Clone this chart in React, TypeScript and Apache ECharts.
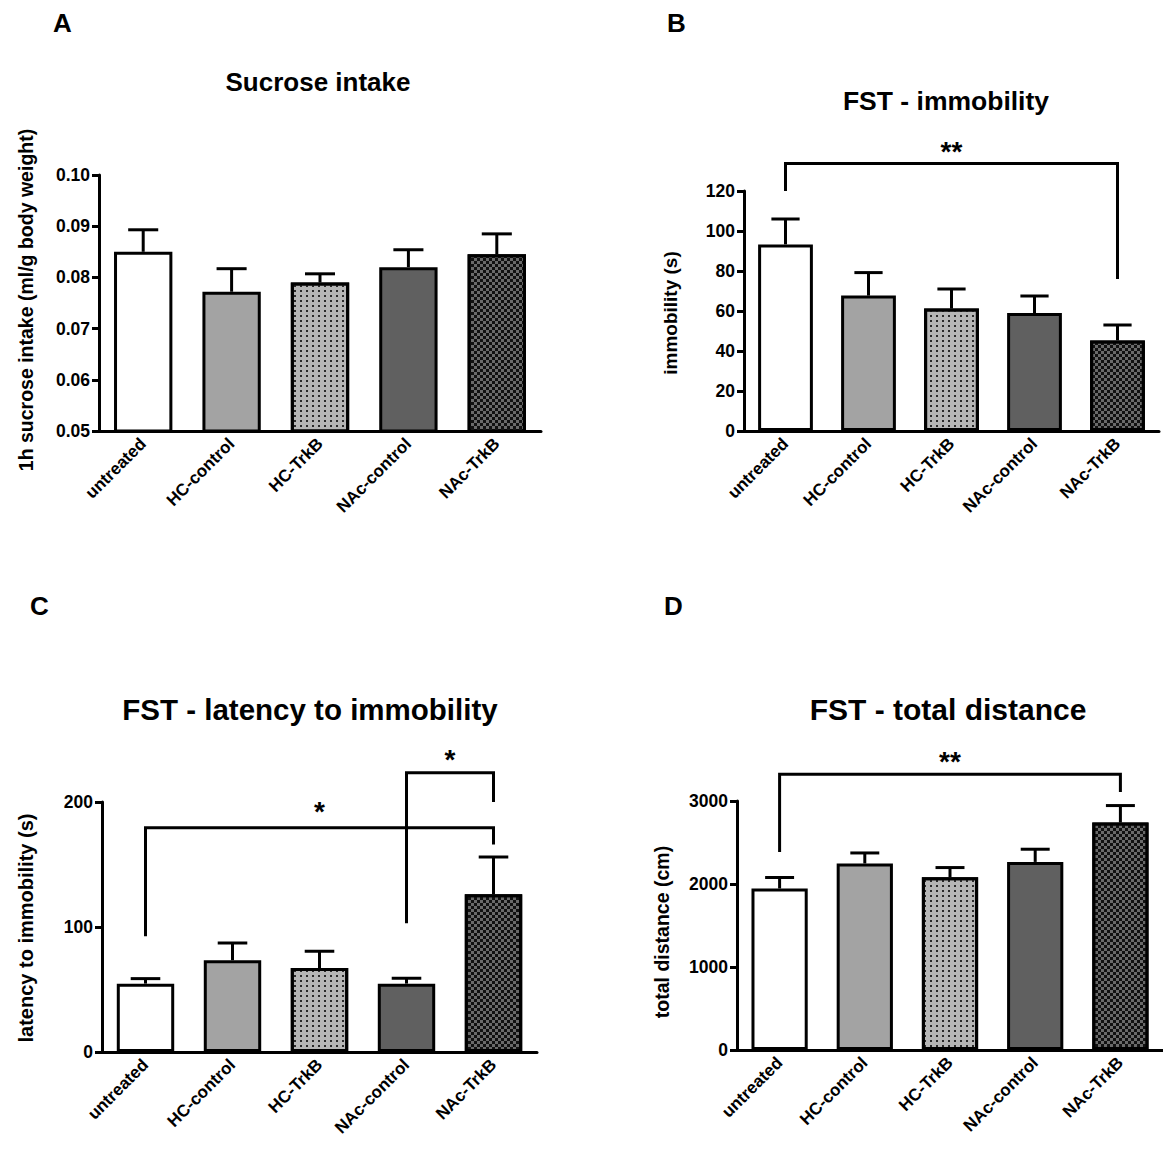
import React, { useEffect, useRef } from "react";
import * as echarts from "echarts";

const FONT = '"Liberation Sans", Arial, Helvetica, sans-serif';

// ---------- data ----------
const categories = ["untreated", "HC-control", "HC-TrkB", "NAc-control", "NAc-TrkB"];

const sucroseMean = [0.085, 0.0772, 0.079, 0.082, 0.0845];
const sucroseSem = [0.0043, 0.0045, 0.0017, 0.0034, 0.004];

const immobilityMean = [93.3, 67.7, 61.2, 59.0, 45.3];
const immobilitySem = [12.7, 11.5, 9.8, 8.5, 7.7];

const latencyMean = [54.7, 73.4, 67.2, 54.7, 126.2];
const latencySem = [4.0, 13.8, 13.4, 4.3, 29.8];

const distanceMean = [1946, 2247, 2082, 2266, 2740];
const distanceSem = [132, 127, 116, 153, 205];

// y-axis ticks: [min, max, step]
const sucroseTicks = [0.05, 0.1, 0.01];
const immobilityTicks = [0, 120, 20];
const latencyTicks = [0, 200, 100];
const distanceTicks = [0, 3000, 1000];

// significance brackets: [fromIndex, toIndex, fromEnd, toEnd, top, labelAt]
const immobilityBrackets = [[0, 4, 120, 76, 133.8, 143]];
const immobilityStars = ["**"];
const latencyBrackets = [
  [0, 4, 92.6, 166, 179.5, 197],
  [3, 4, 103, 200, 223.5, 239],
];
const latencyStars = ["*", "*"];
const distanceBrackets = [[0, 4, 2386, 3108, 3321, 3550]];
const distanceStars = ["**"];

const titles = ["Sucrose intake", "FST - immobility", "FST - latency to immobility", "FST - total distance"];
const yNames = ["1h sucrose intake (ml/g body weight)", "immobility (s)", "latency to immobility (s)", "total distance (cm)"];
const panelLetters = ["A", "B", "C", "D"];

// ---------- styles ----------
const barStyles: any[] = [
  { color: "#ffffff" },
  { color: "#a3a3a3" },
  {
    color: "#b6b6b6",
    decal: { symbol: "rect", symbolSize: 1, color: "#2a2a2a", dashArrayX: [2, 4], dashArrayY: [2, 3] },
  },
  { color: "#606060" },
  {
    color: "#6a6a6a",
    decal: { symbol: "rect", symbolSize: 1, color: "#111111", dashArrayX: [[3, 3], [0, 3, 3, 0]], dashArrayY: [3, 0] },
  },
];

const grids = [
  { left: 99, top: 175, width: 442, height: 256 },
  { left: 744, top: 191, width: 415, height: 240 },
  { left: 102, top: 802, width: 435, height: 250 },
  { left: 737, top: 801, width: 427, height: 249 },
];

const titleLayout = [
  { x: 318, y: 82, size: 26 },
  { x: 946, y: 101, size: 26.5 },
  { x: 310, y: 709, size: 29.5 },
  { x: 948, y: 709, size: 30 },
];
const yNameLayout = [
  { x: 26, y: 300, size: 19.5 },
  { x: 670, y: 313, size: 19 },
  { x: 26, y: 928, size: 20 },
  { x: 662, y: 932, size: 19.5 },
];
const letterLayout = [
  { x: 53, y: 23 },
  { x: 667, y: 23 },
  { x: 30, y: 606 },
  { x: 664, y: 606 },
];

const panels = [
  { mean: sucroseMean, sem: sucroseSem, ticks: sucroseTicks, fmt: (v: number) => v.toFixed(2), brackets: [] as number[][], stars: [] as string[] },
  { mean: immobilityMean, sem: immobilitySem, ticks: immobilityTicks, fmt: (v: number) => String(v), brackets: immobilityBrackets, stars: immobilityStars },
  { mean: latencyMean, sem: latencySem, ticks: latencyTicks, fmt: (v: number) => String(v), brackets: latencyBrackets, stars: latencyStars },
  { mean: distanceMean, sem: distanceSem, ticks: distanceTicks, fmt: (v: number) => String(v), brackets: distanceBrackets, stars: distanceStars },
];

function buildOption() {
  const xAxis: any[] = [];
  const yAxis: any[] = [];
  const series: any[] = [];
  const graphic: any[] = [];

  panels.forEach((p, i) => {
    xAxis.push({
      type: "category",
      gridIndex: i,
      data: categories,
      axisLine: { lineStyle: { color: "#000", width: 3 } },
      axisTick: { alignWithLabel: true, length: 8, lineStyle: { color: "#000", width: 3 } },
      axisLabel: {
        rotate: 45,
        interval: 0,
        margin: 10,
        color: "#000",
        fontWeight: "bold",
        fontSize: 17,
        fontFamily: FONT,
      },
      splitLine: { show: false },
    });
    yAxis.push({
      type: "value",
      gridIndex: i,
      min: p.ticks[0],
      max: p.ticks[1],
      interval: p.ticks[2],
      axisLine: { show: true, lineStyle: { color: "#000", width: 3 } },
      axisTick: { show: true, length: 7, lineStyle: { color: "#000", width: 3 } },
      axisLabel: {
        margin: 9,
        color: "#000",
        fontWeight: "bold",
        fontSize: 17.5,
        fontFamily: FONT,
        formatter: p.fmt,
      },
      splitLine: { show: false },
    });

    series.push({
      type: "custom",
      xAxisIndex: i,
      yAxisIndex: i,
      z: 1,
      data: p.mean.map((m, j) => [j, m, p.sem[j]]),
      renderItem: (params: any, api: any) => {
        const x = api.value(0);
        const m = api.value(1);
        const e = api.value(2);
        const base = api.coord([x, m]);
        const top = api.coord([x, m + e]);
        const half = api.size([1, 0])[0] * 0.17;
        return {
          type: "group",
          children: [
            { type: "line", shape: { x1: base[0], y1: base[1], x2: top[0], y2: top[1] }, style: { stroke: "#000", lineWidth: 3 } },
            { type: "line", shape: { x1: top[0] - half, y1: top[1], x2: top[0] + half, y2: top[1] }, style: { stroke: "#000", lineWidth: 3 } },
          ],
        };
      },
    });

    series.push({
      type: "bar",
      xAxisIndex: i,
      yAxisIndex: i,
      z: 2,
      barWidth: "66%",
      data: p.mean.map((v, j) => ({
        value: v,
        itemStyle: { ...barStyles[j], borderColor: "#000", borderWidth: 3 },
      })),
    });

    if (p.brackets.length) {
      series.push({
        type: "custom",
        xAxisIndex: i,
        yAxisIndex: i,
        z: 3,
        clip: false,
        data: p.brackets,
        renderItem: (params: any, api: any) => {
          const from = api.value(0);
          const to = api.value(1);
          const a = api.coord([from, api.value(2)]);
          const b = api.coord([from, api.value(4)]);
          const c = api.coord([to, api.value(4)]);
          const d = api.coord([to, api.value(3)]);
          const t = api.coord([from, api.value(5)]);
          const midX = (b[0] + c[0]) / 2;
          return {
            type: "group",
            children: [
              {
                type: "polyline",
                shape: { points: [a, b, c, d] },
                style: { stroke: "#000", lineWidth: 3, fill: null },
              },
              {
                type: "text",
                x: midX,
                y: t[1] + 6,
                style: {
                  text: p.stars[params.dataIndex],
                  fill: "#000",
                  font: `bold 28px ${FONT}`,
                  align: "center",
                  verticalAlign: "middle",
                  textAlign: "center",
                  textVerticalAlign: "middle",
                },
              },
            ],
          };
        },
      });
    }

    const tl = titleLayout[i];
    graphic.push({
      type: "text",
      x: tl.x,
      y: tl.y,
      style: {
        text: titles[i],
        fill: "#000",
        font: `bold ${tl.size}px ${FONT}`,
        textAlign: "center",
        textVerticalAlign: "middle",
      },
    });
    const yl = yNameLayout[i];
    graphic.push({
      type: "text",
      x: yl.x,
      y: yl.y,
      rotation: Math.PI / 2,
      style: {
        text: yNames[i],
        fill: "#000",
        font: `bold ${yl.size}px ${FONT}`,
        textAlign: "center",
        textVerticalAlign: "middle",
      },
    });
    const ll = letterLayout[i];
    graphic.push({
      type: "text",
      x: ll.x,
      y: ll.y,
      style: {
        text: panelLetters[i],
        fill: "#000",
        font: `bold 26px ${FONT}`,
        textAlign: "left",
        textVerticalAlign: "middle",
      },
    });
  });

  return {
    animation: false,
    backgroundColor: "#ffffff",
    grid: grids,
    xAxis,
    yAxis,
    series,
    graphic,
  };
}

export default function App() {
  const ref = useRef<HTMLDivElement>(null);
  useEffect(() => {
    if (!ref.current) return;
    const chart = echarts.init(ref.current, null, { renderer: "svg", width: 1163, height: 1150 });
    chart.setOption(buildOption() as any);
    return () => chart.dispose();
  }, []);
  return (
    <div
      ref={ref}
      style={{ position: "absolute", left: 0, top: 0, width: 1163, height: 1150, background: "#fff" }}
    />
  );
}
